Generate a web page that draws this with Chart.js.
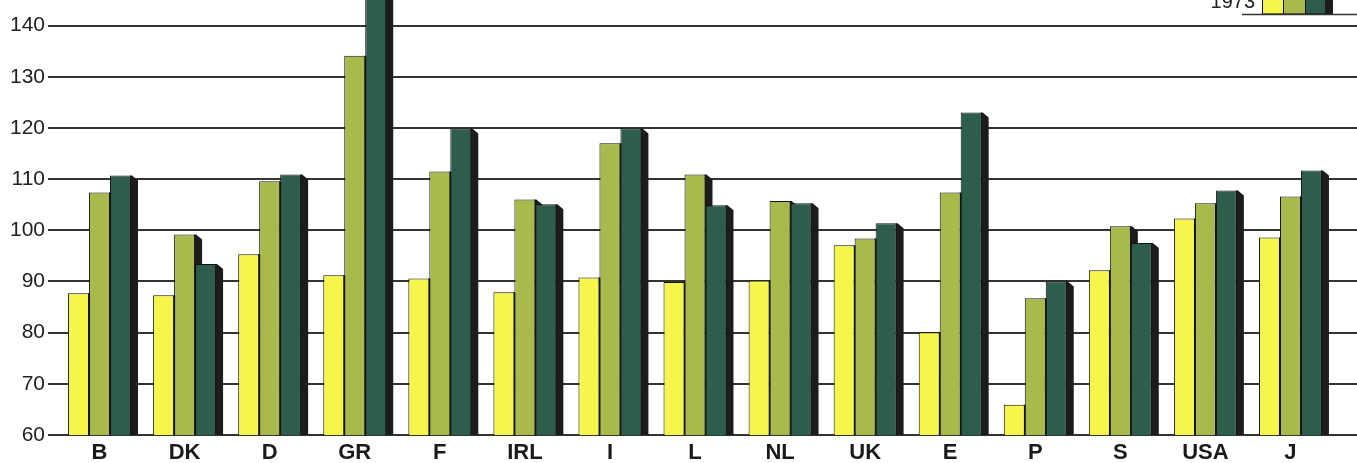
<!DOCTYPE html>
<html>
<head>
<meta charset="utf-8">
<script src="https://cdn.jsdelivr.net/npm/chart.js@4/dist/chart.umd.min.js"></script>
<style>
  html, body { margin: 0; padding: 0; background: #fff; }
  #chart { display: block; }
</style>
</head>
<body>
<canvas id="chart" width="1357" height="463"></canvas>
<script>
// Country codes along the bottom
const categories = ['B', 'DK', 'D', 'GR', 'F', 'IRL', 'I', 'L', 'NL', 'UK', 'E', 'P', 'S', 'USA', 'J'];

// Three series (index values)
const seriesYellow = [87.7, 87.3, 95.3, 91.2, 90.6, 87.9, 90.8, 89.9, 90.2, 97.1, 80.1, 65.9, 92.2, 102.3, 98.6];
const seriesGreen  = [107.4, 99.2, 109.6, 134.1, 111.5, 106.0, 117.0, 110.9, 105.7, 98.4, 107.4, 86.7, 100.8, 105.3, 106.6];
const seriesDark   = [110.7, 93.4, 110.9, 155.0, 119.9, 105.1, 119.9, 104.9, 105.3, 101.4, 123.0, 90.0, 97.5, 107.8, 111.7];

// Y axis
const yTicks = [60, 70, 80, 90, 100, 110, 120, 130, 140];
const legendYear = '1973';

const colors = ['#f5f54c', '#a9b94c', '#2e5d4b'];
const GRID = '#333330';
const FONT = '"Liberation Sans", Arial, Helvetica, sans-serif';

// Draws the dark right-hand face of every bar, before the bars themselves
const sideFaces = {
    id: 'sideFaces',
    beforeDatasetsDraw(chart) {
        const ctx = chart.ctx;
        const area = chart.chartArea;

        // gridlines run on to the right edge of the page
        const y = chart.scales.y;
        ctx.save();
        ctx.strokeStyle = GRID;
        ctx.lineWidth = 2;
        yTicks.forEach(function(v) {
            const py = Math.round(y.getPixelForValue(v));
            ctx.beginPath();
            ctx.moveTo(area.right - 1, py);
            ctx.lineTo(chart.width, py);
            ctx.stroke();
        });

        ctx.beginPath();
        ctx.rect(area.left, area.top, chart.width - area.left, area.bottom - area.top);
        ctx.clip();
        ctx.fillStyle = '#1c1c1c';
        chart.data.datasets.forEach(function(ds, i) {
            chart.getDatasetMeta(i).data.forEach(function(bar) {
                const right = bar.x + bar.width / 2;
                ctx.beginPath();
                ctx.moveTo(right - 1, bar.y);
                ctx.lineTo(right + 1, bar.y);
                ctx.lineTo(right + 7, bar.y + 5);
                ctx.lineTo(right + 7, bar.base);
                ctx.lineTo(right - 1, bar.base);
                ctx.closePath();
                ctx.fill();
            });
        });
        ctx.restore();
    },
    afterDraw(chart) {
        // cut-off legend key in the top right corner
        const ctx = chart.ctx;
        ctx.save();
        ctx.fillStyle = '#222';
        ctx.font = '20px ' + FONT;
        ctx.textAlign = 'right';
        ctx.textBaseline = 'alphabetic';
        ctx.fillText(legendYear, 1255, 8);

        let x = 1262;
        const w = [21, 22, 20];
        colors.forEach(function(c, i) {
            ctx.fillStyle = c;
            ctx.fillRect(x, -2, w[i], 16);
            ctx.strokeStyle = '#111';
            ctx.lineWidth = 1;
            ctx.strokeRect(x + 0.5, -2, w[i], 16);
            x += w[i];
        });
        ctx.fillStyle = '#1c1c1c';
        ctx.fillRect(x, -2, 8, 16);

        ctx.strokeStyle = GRID;
        ctx.lineWidth = 1.5;
        ctx.beginPath();
        ctx.moveTo(1242, 14.5);
        ctx.lineTo(chart.width, 14.5);
        ctx.stroke();
        ctx.restore();
    }
};

new Chart(document.getElementById('chart'), {
    type: 'bar',
    data: {
        labels: categories,
        datasets: [
            { label: 'yellow', data: seriesYellow, backgroundColor: colors[0] },
            { label: 'green', data: seriesGreen, backgroundColor: colors[1] },
            { label: 'dark', data: seriesDark, backgroundColor: colors[2] }
        ]
    },
    options: {
        responsive: false,
        animation: false,
        layout: { padding: { top: 0, right: 24, bottom: 0, left: 0 } },
        datasets: {
            bar: {
                barPercentage: 1,
                categoryPercentage: 0.74,
                borderColor: '#111',
                borderWidth: 1,
                borderSkipped: 'bottom'
            }
        },
        plugins: {
            legend: { display: false },
            tooltip: { enabled: false }
        },
        scales: {
            x: {
                grid: { display: false, drawTicks: false },
                border: { display: false },
                ticks: {
                    color: '#1a1a1a',
                    padding: 7,
                    font: { family: FONT, size: 22, weight: 'bold', lineHeight: 1 }
                },
                afterFit: function(scale) {
                    scale.height = 28;
                    scale.paddingLeft = 0;
                    scale.paddingRight = 0;
                }
            },
            y: {
                min: 60,
                max: 145,
                afterBuildTicks: function(scale) {
                    scale.ticks = yTicks.map(function(v) { return { value: v }; });
                },
                afterFit: function(scale) {
                    scale.width = 57;
                    scale.paddingTop = 0;
                    scale.paddingBottom = 0;
                },
                grid: {
                    color: GRID,
                    lineWidth: 2,
                    tickLength: 9
                },
                border: { display: false },
                ticks: {
                    color: '#222',
                    padding: 3,
                    font: { family: FONT, size: 21 }
                }
            }
        }
    },
    plugins: [sideFaces]
});
</script>
</body>
</html>
